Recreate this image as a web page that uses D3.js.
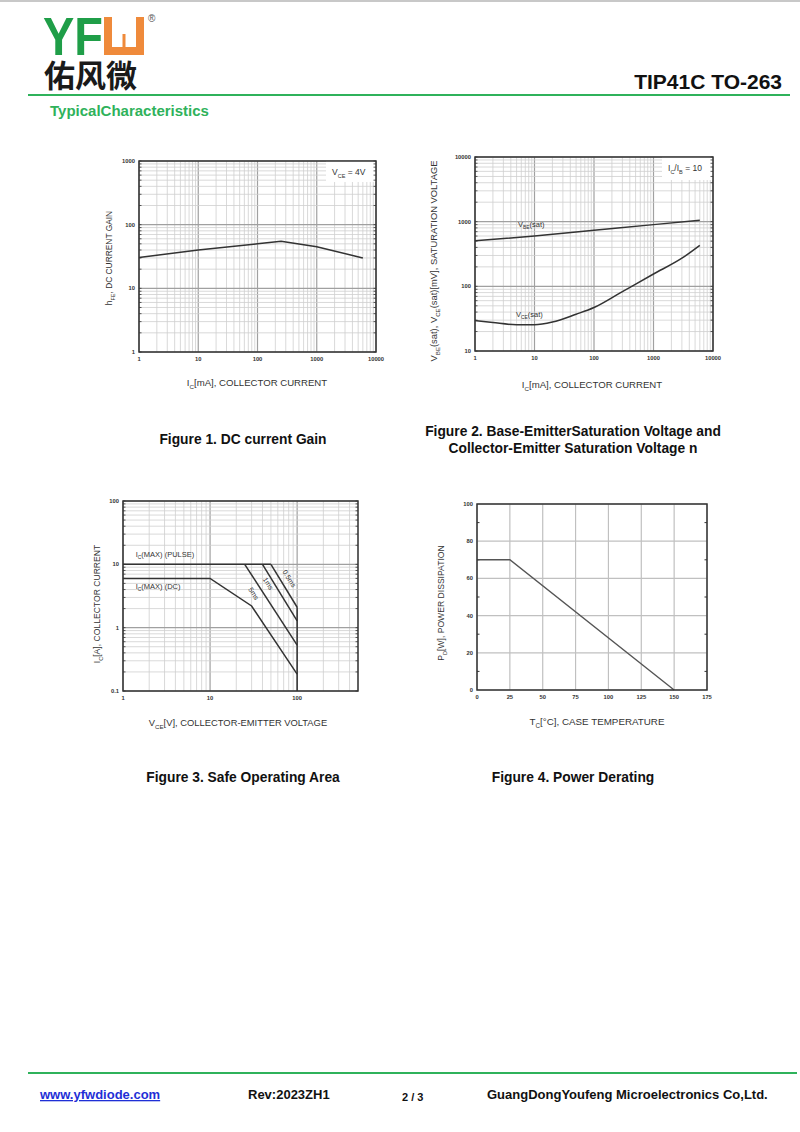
<!DOCTYPE html>
<html>
<head>
<meta charset="utf-8">
<script src="https://cdn.jsdelivr.net/npm/d3@7"></script>
<style>
  body { margin: 0; background: #fff; }
  svg { display: block; font-family: "Liberation Sans", Arial, sans-serif; }
</style>
</head>
<body>
<div id="page"></div>
<script>
// Figure 1: DC current gain vs collector current
var gainIc = [1, 10, 100, 250, 1000, 6000];
var gainHfe = [30.5, 40, 50, 55, 45, 30];

// Figure 2: saturation voltages vs collector current
var vbeIc = [1, 10, 100, 1000, 6000];
var vbeSat = [505, 600, 735, 900, 1050];
var vceIc = [1, 2, 5, 10, 20, 50, 100, 300, 1000, 3000, 6000];
var vceSat = [29.5, 27.5, 25.5, 25.5, 28, 37, 47, 83, 155, 272, 430];

// Figure 3: safe operating area
var pulseV = [1, 50], pulseI = [10, 10];
var dcV = [1, 10, 30, 100], dcI = [6, 6, 2.2, 0.185];
var ms5V = [25, 100], ms5I = [10, 0.53];
var ms1V = [40, 100], ms1I = [10, 1.28];
var ms05V = [50, 100], ms05I = [10, 2.1];
var limitV = [100, 100], limitI = [2.1, 0.1];

// Figure 4: power derating
var tempC = [0, 25, 150];
var powerW = [70, 70, 0];
var tempTicks = [0, 25, 50, 75, 100, 125, 150, 175];
var powerTicks = [0, 20, 40, 60, 80, 100];

var GREEN = '#2fb25b';
var INK = '#333';

var svg = d3.select('#page').append('svg')
  .attr('width', 800)
  .attr('height', 1132);

function zip(a, b) { return a.map(function(v, i) { return [v, b[i]]; }); }

// text with subscripts: parts = [['I'], ['C', true], ['[mA]...']]
function rich(sel, parts, size) {
  var shift = size * 0.3;
  var down = false;
  parts.forEach(function(p) {
    var t = sel.append('tspan').text(p[0]);
    if (p[1]) {
      t.attr('font-size', size * 0.65).attr('dy', shift);
      down = true;
    } else if (down) {
      t.attr('dy', -shift);
      down = false;
    }
  });
  return sel;
}

function isDecade(v) {
  var l = Math.log10(v);
  return Math.abs(l - Math.round(l)) < 1e-9;
}

// draws a log-log grid, returns scales and group
function logFrame(box, xDom, yDom) {
  var x = d3.scaleLog().domain(xDom).range([box.left, box.right]);
  var y = d3.scaleLog().domain(yDom).range([box.bottom, box.top]);
  var g = svg.append('g');
  var xv = x.ticks(), yv = y.ticks();

  g.selectAll('.vminor').data(xv).enter().append('line')
    .attr('x1', function(d) { return x(d); }).attr('x2', function(d) { return x(d); })
    .attr('y1', box.top).attr('y2', box.bottom)
    .attr('stroke', function(d) { return isDecade(d) ? '#a0a0a0' : '#cfcfcf'; })
    .attr('stroke-width', function(d) { return isDecade(d) ? 1.2 : 0.8; });
  g.selectAll('.hminor').data(yv).enter().append('line')
    .attr('y1', function(d) { return y(d); }).attr('y2', function(d) { return y(d); })
    .attr('x1', box.left).attr('x2', box.right)
    .attr('stroke', function(d) { return isDecade(d) ? '#a0a0a0' : '#cfcfcf'; })
    .attr('stroke-width', function(d) { return isDecade(d) ? 1.2 : 0.8; });

  return { g: g, x: x, y: y, xv: xv, yv: yv, box: box };
}

function finishFrame(f) {
  var b = f.box, g = f.g;
  // small tick marks on left and right edges
  g.selectAll('.tl').data(f.yv).enter().append('line')
    .attr('x1', b.left).attr('x2', b.left + 2.5)
    .attr('y1', function(d) { return f.y(d); }).attr('y2', function(d) { return f.y(d); })
    .attr('stroke', INK).attr('stroke-width', 0.8);
  g.selectAll('.tr').data(f.yv).enter().append('line')
    .attr('x1', b.right).attr('x2', b.right - 2.5)
    .attr('y1', function(d) { return f.y(d); }).attr('y2', function(d) { return f.y(d); })
    .attr('stroke', INK).attr('stroke-width', 0.8);
  g.append('rect')
    .attr('x', b.left).attr('y', b.top)
    .attr('width', b.right - b.left).attr('height', b.bottom - b.top)
    .attr('fill', 'none').attr('stroke', INK).attr('stroke-width', 1.5);
}

function tickLabels(f, xLabels, yLabels) {
  var b = f.box;
  f.g.selectAll('.xl').data(xLabels).enter().append('text')
    .attr('x', function(d) { return f.x(d); })
    .attr('y', b.bottom + 9)
    .attr('text-anchor', 'middle')
    .attr('font-size', 5.8).attr('font-weight', 'bold').attr('fill', INK)
    .text(function(d) { return d; });
  f.g.selectAll('.yl').data(yLabels).enter().append('text')
    .attr('x', b.left - 4)
    .attr('y', function(d) { return f.y(d) + 2; })
    .attr('text-anchor', 'end')
    .attr('font-size', 5.8).attr('font-weight', 'bold').attr('fill', INK)
    .text(function(d) { return d; });
}

function axisTitles(xt, xPos, yt, yPos, xs, ys) {
  rich(svg.append('text')
    .attr('x', xPos[0]).attr('y', xPos[1])
    .attr('text-anchor', 'middle')
    .attr('font-size', xs).attr('fill', INK), xt, xs);
  rich(svg.append('text')
    .attr('transform', 'translate(' + yPos[0] + ',' + yPos[1] + ') rotate(-90)')
    .attr('text-anchor', 'middle')
    .attr('font-size', ys).attr('fill', INK), yt, ys);
}

function curve(f, xs, ys, smooth) {
  var line = d3.line()
    .x(function(d) { return f.x(d[0]); })
    .y(function(d) { return f.y(d[1]); });
  if (smooth) line.curve(d3.curveMonotoneX);
  f.g.append('path')
    .attr('d', line(zip(xs, ys)))
    .attr('fill', 'none')
    .attr('stroke', INK)
    .attr('stroke-width', 1.5);
}

function legendBox(f, w, h, parts, size) {
  var b = f.box;
  f.g.append('rect')
    .attr('x', b.right - w).attr('y', b.top)
    .attr('width', w).attr('height', h)
    .attr('fill', '#fff');
  rich(f.g.append('text')
    .attr('x', b.right - w + 6).attr('y', b.top + 14)
    .attr('font-size', size).attr('fill', INK), parts, size);
}

// ---------- header ----------
svg.append('line').attr('x1', 0).attr('x2', 800).attr('y1', 1).attr('y2', 1)
  .attr('stroke', '#c8c8c8').attr('stroke-width', 2);

svg.append('text')
  .attr('x', 43).attr('y', 55)
  .attr('font-size', 54).attr('font-weight', 'bold')
  .attr('fill', '#1f9e48')
  .attr('textLength', 60).attr('lengthAdjust', 'spacingAndGlyphs')
  .text('YF');
// orange U block
svg.append('path')
  .attr('d', 'M104,17 H112 V47 H136 V17 H144 V55 H104 Z')
  .attr('fill', '#ef8a3b');
svg.append('rect').attr('x', 122.5).attr('y', 34).attr('width', 3).attr('height', 13).attr('fill', '#ef8a3b');
svg.append('text')
  .attr('x', 148).attr('y', 22)
  .attr('font-size', 10).attr('fill', '#555')
  .text('®');
svg.append('text')
  .attr('x', 44).attr('y', 87)
  .attr('font-family', '"Noto Sans CJK SC", sans-serif')
  .attr('font-size', 31).attr('font-weight', 'bold')
  .attr('fill', '#1a1a1a')
  .text('佑风微');

svg.append('text')
  .attr('x', 782).attr('y', 89)
  .attr('text-anchor', 'end')
  .attr('font-size', 21).attr('font-weight', 'bold').attr('fill', '#111')
  .text('TIP41C TO-263');

svg.append('line').attr('x1', 28).attr('x2', 790).attr('y1', 95).attr('y2', 95)
  .attr('stroke', GREEN).attr('stroke-width', 2);

svg.append('text')
  .attr('x', 50).attr('y', 116)
  .attr('font-size', 15).attr('font-weight', 'bold').attr('fill', GREEN)
  .text('TypicalCharacteristics');

// ---------- Figure 1 ----------
var f1 = logFrame({ left: 139, right: 376, top: 161, bottom: 352 }, [1, 10000], [1, 1000]);
legendBox(f1, 50, 21, [['V'], ['CE', true], [' = 4V']], 8.5);
curve(f1, gainIc, gainHfe, false);
finishFrame(f1);
tickLabels(f1, [1, 10, 100, 1000, 10000], [1, 10, 100, 1000]);
axisTitles([['I'], ['C', true], ['[mA], COLLECTOR CURRENT']], [257, 386],
  [['h'], ['FE', true], [', DC CURRENT GAIN']], [112, 258], 9.6, 8.4);

// ---------- Figure 2 ----------
var f2 = logFrame({ left: 475, right: 713, top: 157, bottom: 351 }, [1, 10000], [10, 10000]);
legendBox(f2, 51, 23, [['I'], ['C', true], ['/I'], ['B', true], [' = 10']], 8.5);
curve(f2, vbeIc, vbeSat, true);
curve(f2, vceIc, vceSat, true);
rich(f2.g.append('text')
  .attr('x', f2.x(5.3)).attr('y', f2.y(830))
  .attr('font-size', 7.5).attr('fill', INK), [['V'], ['BE', true], ['(sat)']], 7.5);
rich(f2.g.append('text')
  .attr('x', f2.x(4.9)).attr('y', f2.y(34))
  .attr('font-size', 7.5).attr('fill', INK), [['V'], ['CE', true], ['(sat)']], 7.5);
finishFrame(f2);
tickLabels(f2, [1, 10, 100, 1000, 10000], [10, 100, 1000, 10000]);
axisTitles([['I'], ['C', true], ['[mA], COLLECTOR CURRENT']], [592, 388],
  [['V'], ['BE', true], ['(sat),  V'], ['CE', true], ['(sat)[mV], SATURATION VOLTAGE']], [437, 261], 9.6, 9.4);

// ---------- Figure 3 ----------
var f3 = logFrame({ left: 123, right: 358, top: 501, bottom: 691 }, [1, 500], [0.1, 100]);
curve(f3, pulseV, pulseI);
curve(f3, dcV, dcI);
curve(f3, ms5V, ms5I);
curve(f3, ms1V, ms1I);
curve(f3, ms05V, ms05I);
curve(f3, limitV, limitI);
rich(f3.g.append('text')
  .attr('x', f3.x(1.4)).attr('y', f3.y(13))
  .attr('font-size', 7.5).attr('fill', INK), [['I'], ['C', true], ['(MAX) (PULSE)']], 7.5);
rich(f3.g.append('text')
  .attr('x', f3.x(1.4)).attr('y', f3.y(4.1))
  .attr('font-size', 7.5).attr('fill', INK), [['I'], ['C', true], ['(MAX) (DC)']], 7.5);
[[30, 3.3, '5ms'], [44, 4.75, '1ms'], [77, 5.7, '0.5ms']].forEach(function(l) {
  f3.g.append('text')
    .attr('transform', 'translate(' + f3.x(l[0]) + ',' + f3.y(l[1]) + ') rotate(58)')
    .attr('text-anchor', 'middle')
    .attr('font-size', 7).attr('fill', INK)
    .text(l[2]);
});
finishFrame(f3);
tickLabels(f3, [1, 10, 100], [0.1, 1, 10, 100]);
axisTitles([['V'], ['CE', true], ['[V], COLLECTOR-EMITTER VOLTAGE']], [238, 726],
  [['I'], ['C', true], ['[A], COLLECTOR CURRENT']], [100, 604], 9.4, 8.6);

// ---------- Figure 4 ----------
var b4 = { left: 477, right: 707, top: 504, bottom: 690 };
var x4 = d3.scaleLinear().domain([0, 175]).range([b4.left, b4.right]);
var y4 = d3.scaleLinear().domain([0, 100]).range([b4.bottom, b4.top]);
var g4 = svg.append('g');
g4.selectAll('.v').data(tempTicks).enter().append('line')
  .attr('x1', function(d) { return x4(d); }).attr('x2', function(d) { return x4(d); })
  .attr('y1', b4.top).attr('y2', b4.bottom)
  .attr('stroke', '#c0c0c0').attr('stroke-width', 1.2);
g4.selectAll('.h').data(powerTicks).enter().append('line')
  .attr('y1', function(d) { return y4(d); }).attr('y2', function(d) { return y4(d); })
  .attr('x1', b4.left).attr('x2', b4.right)
  .attr('stroke', '#c0c0c0').attr('stroke-width', 1.2);
// half-step tick marks on the side frames
var halfTicks = powerTicks.slice(0, -1).map(function(d) { return d + 10; });
g4.selectAll('.ml').data(halfTicks).enter().append('line')
  .attr('x1', b4.left).attr('x2', b4.left + 2.5)
  .attr('y1', function(d) { return y4(d); }).attr('y2', function(d) { return y4(d); })
  .attr('stroke', INK).attr('stroke-width', 1);
g4.selectAll('.mr').data(halfTicks).enter().append('line')
  .attr('x1', b4.right).attr('x2', b4.right - 2.5)
  .attr('y1', function(d) { return y4(d); }).attr('y2', function(d) { return y4(d); })
  .attr('stroke', INK).attr('stroke-width', 1);
g4.append('path')
  .attr('d', d3.line()
    .x(function(d) { return x4(d[0]); })
    .y(function(d) { return y4(d[1]); })(zip(tempC, powerW)))
  .attr('fill', 'none').attr('stroke', '#555').attr('stroke-width', 1.4);
g4.append('rect')
  .attr('x', b4.left).attr('y', b4.top)
  .attr('width', b4.right - b4.left).attr('height', b4.bottom - b4.top)
  .attr('fill', 'none').attr('stroke', INK).attr('stroke-width', 1.5);
g4.selectAll('.xl').data(tempTicks).enter().append('text')
  .attr('x', function(d) { return x4(d); }).attr('y', b4.bottom + 9)
  .attr('text-anchor', 'middle')
  .attr('font-size', 5.8).attr('font-weight', 'bold').attr('fill', INK)
  .text(function(d) { return d; });
g4.selectAll('.yl').data(powerTicks).enter().append('text')
  .attr('x', b4.left - 4).attr('y', function(d) { return y4(d) + 2; })
  .attr('text-anchor', 'end')
  .attr('font-size', 5.8).attr('font-weight', 'bold').attr('fill', INK)
  .text(function(d) { return d; });
axisTitles([['T'], ['C', true], ['[°C], CASE TEMPERATURE']], [597, 725],
  [['P'], ['D', true], ['[W], POWER DISSIPATION']], [444, 603], 9.8, 8.6);

// ---------- captions ----------
var captions = [
  [243, 444, 'Figure 1. DC current Gain'],
  [573, 436, 'Figure 2. Base-EmitterSaturation Voltage and'],
  [573, 453, 'Collector-Emitter Saturation Voltage n'],
  [243, 782, 'Figure 3. Safe Operating Area'],
  [573, 782, 'Figure 4. Power Derating']
];
captions.forEach(function(c) {
  svg.append('text')
    .attr('x', c[0]).attr('y', c[1])
    .attr('text-anchor', 'middle')
    .attr('font-size', 13.8).attr('font-weight', 'bold').attr('fill', '#111')
    .text(c[2]);
});

// ---------- footer ----------
svg.append('line').attr('x1', 28).attr('x2', 797).attr('y1', 1073).attr('y2', 1073)
  .attr('stroke', GREEN).attr('stroke-width', 2);
svg.append('text')
  .attr('x', 40).attr('y', 1099)
  .attr('font-size', 13).attr('font-weight', 'bold').attr('fill', '#1f2fd6')
  .attr('text-decoration', 'underline')
  .text('www.yfwdiode.com');
svg.append('text')
  .attr('x', 248).attr('y', 1099)
  .attr('font-size', 13).attr('font-weight', 'bold').attr('fill', '#111')
  .text('Rev:2023ZH1');
svg.append('text')
  .attr('x', 402).attr('y', 1101)
  .attr('font-size', 11).attr('font-weight', 'bold').attr('fill', '#111')
  .text('2 / 3');
svg.append('text')
  .attr('x', 487).attr('y', 1099)
  .attr('font-size', 13).attr('font-weight', 'bold').attr('fill', '#111')
  .text('GuangDongYoufeng Microelectronics Co,Ltd.');
</script>
</body>
</html>
